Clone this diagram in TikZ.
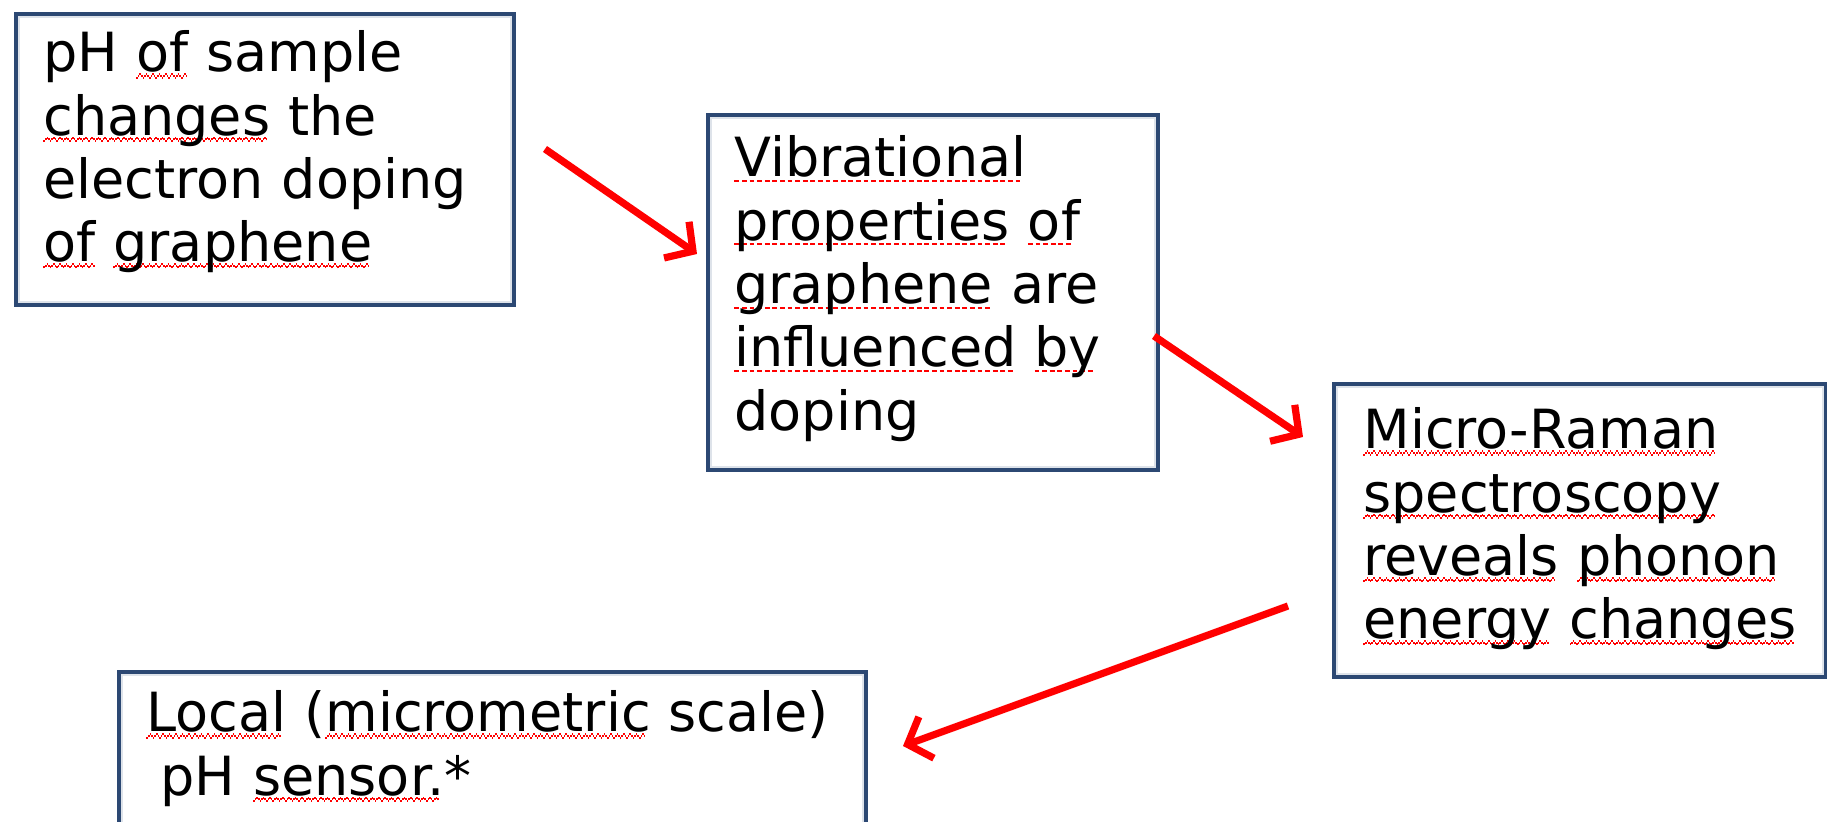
\documentclass[tikz,border=0pt]{standalone}
\usepackage{fontspec}
\setmainfont{DejaVu Sans}
\usetikzlibrary{arrows.meta}
\definecolor{boxline}{RGB}{44,72,115}
\definecolor{boxinner}{RGB}{222,227,234}
% spell-check style underlines: zigzag and dashed
\newcommand\zigmark{\textcolor{red}{\rule[-3.3pt]{0.8pt}{1pt}\rule[-2.5pt]{0.8pt}{1pt}\rule[-1.7pt]{0.8pt}{1pt}\rule[-2.5pt]{0.8pt}{1pt}}}
\newcommand\dashmark{\textcolor{red}{\rule[-2.6pt]{2.4pt}{1pt}\hspace{1.4pt}}}
\newsavebox\wordbox
\newcommand\sq[1]{\leavevmode\sbox\wordbox{#1}\rlap{\leaders\hbox{\zigmark}\hskip\wd\wordbox}\usebox\wordbox}
\newcommand\dq[1]{\leavevmode\sbox\wordbox{#1}\rlap{\leaders\hbox{\dashmark}\hskip\wd\wordbox}\usebox\wordbox}
\begin{document}
\begin{tikzpicture}[x=0.5pt,y=-0.5pt,
  stepbox/.style={draw=boxline, line width=2.9pt, fill=white, inner sep=0pt, anchor=north west},
  boxtext/.style={anchor=base west, inner sep=0pt, align=left, text width=#1,
    font=\fontsize{27}{31.65}\selectfont},
  flow/.style={draw=red, line width=3.6pt, -{Straight Barb[length=10pt,width=22pt,line width=3.6pt]}}]
\useasboundingbox (0,0) rectangle (1827,822);
\clip (0,0) rectangle (1827,822);
\fill[white] (0,0) rectangle (1827,822);

% boxes
\node[stepbox, minimum width=248pt, minimum height=144.5pt] (b1) at (14,12) {};
\node[stepbox, minimum width=224pt, minimum height=176.5pt] (b2) at (706,113) {};
\node[stepbox, minimum width=245pt, minimum height=145.5pt] (b3) at (1332,382) {};
\node[stepbox, minimum width=372.5pt, minimum height=100pt] (b4) at (117,670) {};
\foreach \b in {b1,b2,b3,b4}
  \draw[boxinner, line width=1pt] ([shift={(5,5)}]\b.north west) rectangle ([shift={(-5,-5)}]\b.south east);

% texts
\node[boxtext=230pt] (t1) at (43,72)
  {pH \sq{of} sample\\ \sq{changes} the\\ electron doping\\ \sq{of} \sq{graphene}};
\node[boxtext=215pt] (t2) at (734,177)
  {\dq{Vibrational}\\ \dq{properties} \dq{of}\\ \dq{graphene} are\\ \dq{influenced} \dq{by}\\ doping};
\node[boxtext=230pt] (t3) at (1363,449)
  {\sq{Micro-Raman}\\ \sq{spectroscopy}\\ \sq{reveals} \sq{phonon}\\ \sq{energy} \sq{changes}};
\node[boxtext=360pt] (t4) at (146,732)
  {\sq{Local} (\sq{micrometric} scale)\\ \hspace*{7pt}pH \sq{sensor.}*};

% connectors
\coordinate (a1s) at (545,149);
\coordinate (a1e) at (697,254);
\coordinate (a2s) at (1154,336);
\coordinate (a2e) at (1303,437);
\coordinate (a3s) at (1288,606);
\coordinate (a3e) at (903,746);
\draw[flow] (a1s) -- (a1e);
\draw[flow] (a2s) -- (a2e);
\draw[flow] (a3s) -- (a3e);
\end{tikzpicture}
\end{document}
